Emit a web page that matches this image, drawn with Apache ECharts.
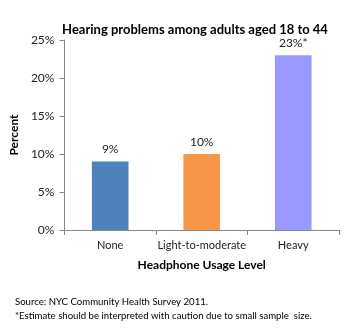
<!DOCTYPE html>
<html><head><meta charset="utf-8">
<script src="https://cdn.jsdelivr.net/npm/echarts@6/dist/echarts.min.js"></script>
<style>html,body{margin:0;padding:0;background:#fff}#c{width:350px;height:328px}</style>
</head><body><div id="c"></div>
<script>
var categories = ["None", "Light-to-moderate", "Heavy"];
var values = [9, 10, 23];
var valueLabels = ["9%", "10%", "23%*"];
var colors = ["#4F81BD", "#F79646", "#9999FF"];
var titleText = "Hearing problems among adults aged 18 to 44";
var xName = "Headphone Usage Level";
var yName = "Percent";
var notes = ["Source: NYC Community Health Survey 2011.", "*Estimate should be interpreted with caution due to small sample  size."];

var font = "Lato";
var chart = echarts.init(document.getElementById('c'), null, {renderer: 'canvas'});
chart.setOption({
  animation: false,
  textStyle: {fontFamily: font},
  title: [
    {text: titleText, left: 190, textAlign: 'center', top: 18, textStyle: {fontSize: 13, fontWeight: 'bold', color: '#000', fontFamily: font}},
    {text: notes[0] + "\n" + notes[1], left: 10, top: 290, textStyle: {fontSize: 9.6, fontWeight: 'normal', color: '#000', lineHeight: 14, fontFamily: font}}
  ],
  grid: {left: 55, right: 11, top: 40, bottom: 98, containLabel: false},
  xAxis: {
    type: 'category', data: categories,
    name: xName, nameLocation: 'middle', nameGap: 29,
    nameTextStyle: {fontSize: 12, fontWeight: 'bold', color: '#000', fontFamily: font},
    axisLine: {lineStyle: {color: '#868686'}},
    axisTick: {show: true, length: 5, lineStyle: {color: '#868686'}},
    axisLabel: {fontSize: 11, color: '#222', margin: 10, interval: 0, fontFamily: font}
  },
  yAxis: {
    type: 'value', min: 0, max: 25, interval: 5,
    name: yName, nameLocation: 'middle', nameGap: 40, nameRotate: 90,
    nameTextStyle: {fontSize: 12, fontWeight: 'bold', color: '#000', fontFamily: font},
    axisLine: {show: true, lineStyle: {color: '#868686'}},
    axisTick: {show: true, length: 5, lineStyle: {color: '#868686'}},
    splitLine: {show: false},
    axisLabel: {fontSize: 12, color: '#222', margin: 10, formatter: '{value}%', fontFamily: font}
  },
  series: [{
    type: 'bar',
    barWidth: '40%',
    data: values.map(function(v, i){ return {value: v, itemStyle: {color: colors[i]}}; }),
    label: {show: true, position: 'top', distance: 6, fontSize: 12, color: '#222', fontFamily: font,
      formatter: function(p){ return valueLabels[p.dataIndex]; }}
  }]
});
</script></body></html>
